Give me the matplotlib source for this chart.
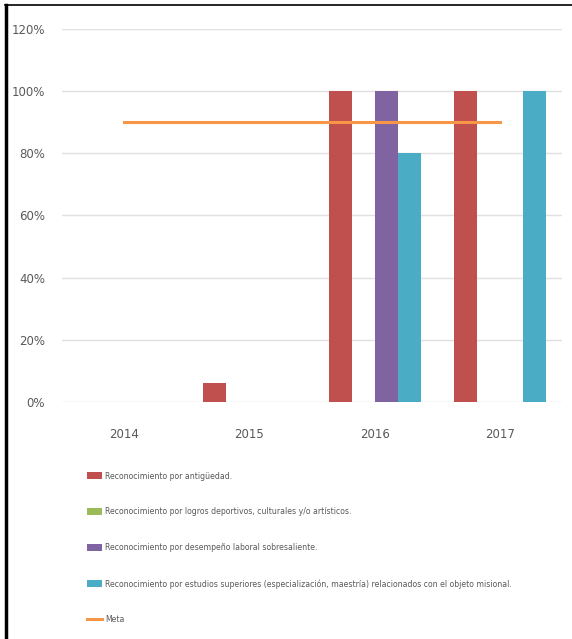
import matplotlib
matplotlib.use("Agg")
import matplotlib.pyplot as plt
from matplotlib.lines import Line2D
from matplotlib.patches import Patch
import numpy as np

years = ["2014", "2015", "2016", "2017"]
antiguedad = [0.0, 0.06, 1.0, 1.0]
logros = [0.0, 0.0, 0.0, 0.0]
desempeno = [0.0, 0.0, 1.0, 0.0]
estudios = [0.0, 0.0, 0.8, 1.0]
meta = [0.9, 0.9, 0.9, 0.9]

labels = [
    "Reconocimiento por antigüedad.",
    "Reconocimiento por logros deportivos, culturales y/o artísticos.",
    "Reconocimiento por desempeño laboral sobresaliente.",
    "Reconocimiento por estudios superiores (especialización, maestría) relacionados con el objeto misional.",
    "Meta",
]
colors = ["#C0504D", "#9BBB59", "#8064A2", "#4BACC6", "#F79646"]
text_color = "#595959"

fig = plt.figure(figsize=(5.72, 6.39), dpi=100)
ax = fig.add_axes([0.108, 0.371, 0.875, 0.584])

x = np.arange(len(years))
w = 0.184
series = [antiguedad, logros, desempeno, estudios]
for i, vals in enumerate(series):
    ax.bar(x + (i - 1.5) * w, vals, width=w, color=colors[i], zorder=2)
ax.plot(x, meta, color=colors[4], linewidth=2.2, zorder=3)

ax.set_xlim(-0.5, 3.5)
ax.set_ylim(0, 1.2)
ax.set_yticks(np.arange(0, 1.21, 0.2))
ax.set_yticklabels([f"{int(round(v * 100))}%" for v in np.arange(0, 1.21, 0.2)])
ax.set_xticks(x)
ax.set_xticklabels(years)
ax.grid(axis="y", color="#E0E0E0", linewidth=1, zorder=0)
for s in ax.spines.values():
    s.set_visible(False)
ax.tick_params(axis="both", length=0, colors=text_color, labelsize=8.5)
ax.tick_params(axis="y", pad=12)
ax.tick_params(axis="x", pad=19)

handles = [Patch(facecolor=c) for c in colors[:4]]
handles.append(Line2D([0], [0], color=colors[4], linewidth=2.2))
leg = fig.legend(handles, labels, loc="upper left", bbox_to_anchor=(0.152, 0.262),
                 frameon=False, fontsize=5.6, labelspacing=3.45,
                 handlelength=1.9, handleheight=1.0, handletextpad=0.4,
                 borderpad=0, borderaxespad=0)
for t in leg.get_texts():
    t.set_color(text_color)

# black frame on left and top
fig.add_artist(Line2D([6 / 572, 6 / 572], [0, 1 - 5 / 639], color="black",
                      linewidth=2.5, transform=fig.transFigure))
fig.add_artist(Line2D([5 / 572, 1], [1 - 5 / 639, 1 - 5 / 639], color="black",
                      linewidth=1.2, transform=fig.transFigure))

fig.savefig("out.png", dpi=100)
